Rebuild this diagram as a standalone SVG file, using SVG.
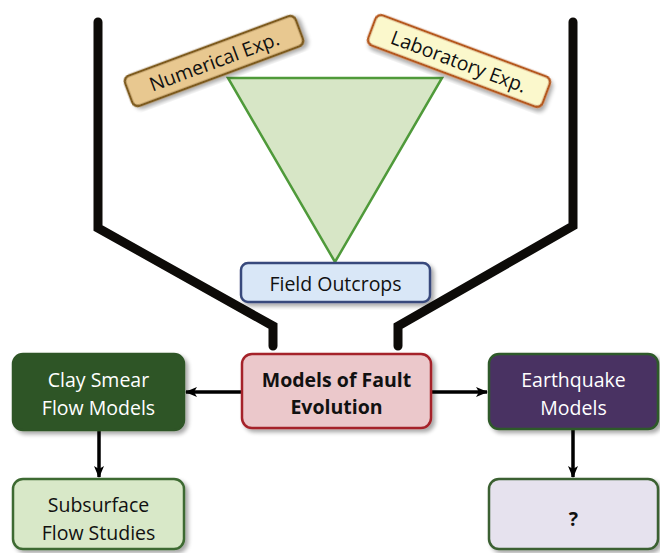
<svg xmlns="http://www.w3.org/2000/svg" width="660" height="553" viewBox="0 0 660 553">
<defs>
<filter id="sh" x="-20%" y="-20%" width="140%" height="140%">
<feGaussianBlur in="SourceAlpha" stdDeviation="2"/>
<feOffset dx="3" dy="3"/>
<feComponentTransfer><feFuncA type="linear" slope="0.35"/></feComponentTransfer>
<feMerge><feMergeNode/><feMergeNode in="SourceGraphic"/></feMerge>
</filter>
<marker id="ah" markerWidth="12" markerHeight="10" refX="11" refY="5" orient="auto" markerUnits="userSpaceOnUse">
<path d="M0,0 L12,5 L0,10 L3,5 Z" fill="#000"/>
</marker>
</defs>
<style>
.t{font-family:"Open Sans","Liberation Sans",sans-serif;font-size:19.5px;fill:#111;text-anchor:middle;dominant-baseline:central}
.w{fill:#fff}
.b{font-weight:bold}
.box{stroke-width:2.5;filter:url(#sh)}
.funnel{fill:none;stroke:#0d0b08;stroke-width:9;stroke-linecap:round;stroke-linejoin:miter}
.arr{fill:none;stroke:#000;stroke-width:3.5;marker-end:url(#ah)}
</style>
<rect width="660" height="553" fill="#fff"/>
<g id="connectors">
<polyline class="funnel" points="98,22 98,228 273,326 273,346"/>
<polyline class="funnel" points="573,22 573,226 398,326 398,346"/>
<line class="arr" x1="242" y1="392" x2="186" y2="392"/>
<line class="arr" x1="431" y1="392" x2="487" y2="392"/>
<line class="arr" x1="99" y1="430" x2="99" y2="477"/>
<line class="arr" x1="573" y1="429" x2="573" y2="477"/>
</g>
<g id="triangle">
<polygon points="228,78 442,78 335,262" fill="#d7e6c6" stroke="#4f9a3a" stroke-width="2.5"/>
</g>
<g id="numerical" transform="translate(214,61) rotate(-20.4)">
<rect class="box" x="-91" y="-16" width="182" height="32" rx="6" fill="#e8c890" stroke="#7d5a1e"/>
<text class="t" x="0" y="0">Numerical Exp.</text>
</g>
<g id="laboratory" transform="translate(459,61) rotate(20.5)">
<rect class="box" x="-93" y="-16" width="186" height="32" rx="6" fill="#fbf8cc" stroke="#b5581f"/>
<text class="t" x="0" y="0">Laboratory Exp.</text>
</g>
<g id="field">
<rect class="box" x="241" y="263" width="189" height="39" rx="7" fill="#d9e7f7" stroke="#384a7c"/>
<text class="t" x="335.5" y="283">Field Outcrops</text>
</g>
<g id="models">
<rect class="box" x="242" y="354" width="189" height="74" rx="10" fill="#ebc8cb" stroke="#a5242a"/>
<text class="t b" x="336.5" y="379">Models of Fault</text>
<text class="t b" x="336.5" y="406">Evolution</text>
</g>
<g id="clay">
<rect class="box" x="13" y="354" width="171" height="76" rx="10" fill="#2e5426" stroke="#2e5426"/>
<text class="t w" x="98.5" y="379">Clay Smear</text>
<text class="t w" x="98.5" y="407">Flow Models</text>
</g>
<g id="subsurface">
<rect class="box" x="13" y="479" width="171" height="70" rx="10" fill="#d8e8c8" stroke="#3e6a30"/>
<text class="t" x="98.5" y="504">Subsurface</text>
<text class="t" x="98.5" y="532">Flow Studies</text>
</g>
<g id="earthquake">
<rect class="box" x="489" y="354" width="169" height="75" rx="10" fill="#4a3362" stroke="#2f5a2a"/>
<text class="t w" x="573.5" y="379">Earthquake</text>
<text class="t w" x="573.5" y="407">Models</text>
</g>
<g id="unknown">
<rect class="box" x="489" y="479" width="169" height="70" rx="10" fill="#e6e2ee" stroke="#3a6030"/>
<text class="t b" x="573.5" y="518">?</text>
</g>
</svg>
